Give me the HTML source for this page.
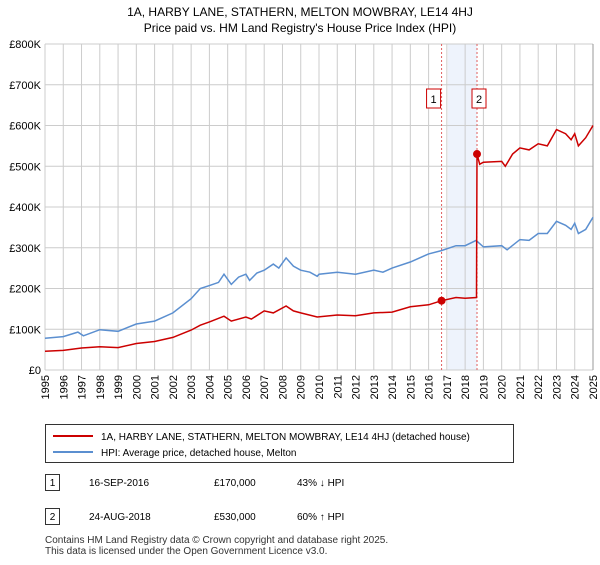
<!DOCTYPE html>
<html><head><meta charset="utf-8"><style>
body{margin:0;background:#fff;font-family:"Liberation Sans",sans-serif;}
svg text{font-family:"Liberation Sans",sans-serif;}
</style></head><body>
<svg width="600" height="560" viewBox="0 0 600 560">
<text x="300" y="16" text-anchor="middle" font-size="12">1A, HARBY LANE, STATHERN, MELTON MOWBRAY, LE14 4HJ</text>
<text x="300" y="32" text-anchor="middle" font-size="12">Price paid vs. HM Land Registry's House Price Index (HPI)</text>
<g id="grid"></g>
<g id="marks"></g>
<g id="legend">
<rect x="45.5" y="424.5" width="468" height="38" fill="#fff" stroke="#333"/>
<line x1="53" y1="436" x2="93" y2="436" stroke="#cc0000" stroke-width="2"/>
<text x="101" y="440" font-size="10">1A, HARBY LANE, STATHERN, MELTON MOWBRAY, LE14 4HJ (detached house)</text>
<line x1="53" y1="452" x2="93" y2="452" stroke="#5b8fd0" stroke-width="2"/>
<text x="101" y="456" font-size="10">HPI: Average price, detached house, Melton</text>
</g>
<g font-size="10">
<rect x="45.5" y="474.5" width="14" height="16" fill="#fff" stroke="#333"/><text x="52.5" y="486" text-anchor="middle">1</text>
<text x="89" y="486">16-SEP-2016</text><text x="214" y="486">£170,000</text><text x="297" y="486">43% ↓ HPI</text>
<rect x="45.5" y="508.5" width="14" height="16" fill="#fff" stroke="#333"/><text x="52.5" y="520" text-anchor="middle">2</text>
<text x="89" y="520">24-AUG-2018</text><text x="214" y="520">£530,000</text><text x="297" y="520">60% ↑ HPI</text>
</g>
<text x="45" y="543" font-size="10" fill="#333">Contains HM Land Registry data © Crown copyright and database right 2025.</text>
<text x="45" y="554" font-size="10" fill="#333">This data is licensed under the Open Government Licence v3.0.</text>
</svg>
<script>
const yTicks=[0,100,200,300,400,500,600,700,800];
const yTickLabels=["£0","£100K","£200K","£300K","£400K","£500K","£600K","£700K","£800K"];
const xYears=[1995,1996,1997,1998,1999,2000,2001,2002,2003,2004,2005,2006,2007,2008,2009,2010,2011,2012,2013,2014,2015,2016,2017,2018,2019,2020,2021,2022,2023,2024,2025];
const hpiT=[1995,1996,1996.8,1997.1,1998,1999,2000,2001,2002,2003,2003.5,2004,2004.5,2004.8,2005.2,2005.6,2006,2006.2,2006.6,2007,2007.5,2007.8,2008.2,2008.6,2009,2009.5,2009.9,2010,2011,2012,2013,2013.5,2014,2015,2016,2016.7,2017.5,2018,2018.6,2019,2020,2020.3,2021,2021.5,2022,2022.5,2023,2023.5,2023.8,2024,2024.2,2024.6,2025];
const hpiV=[78,82,93,84,99,95,113,120,140,175,200,207,215,235,210,228,235,220,238,245,260,250,275,255,245,240,230,235,240,235,245,240,250,265,285,293,305,305,318,302,305,295,320,318,335,335,365,355,345,360,335,345,375];
const redT=[1995,1996,1997,1998,1999,2000,2001,2002,2003,2003.5,2004,2004.8,2005.2,2006,2006.3,2007,2007.5,2008.2,2008.6,2009,2009.9,2011,2012,2013,2014,2015,2016,2016.71,2017.5,2018,2018.62,2018.65,2018.8,2019,2020,2020.2,2020.6,2021,2021.5,2022,2022.5,2023,2023.5,2023.8,2024,2024.2,2024.6,2025];
const redV=[46,48,54,57,55,65,70,80,98,110,118,132,120,130,125,145,140,157,145,140,130,135,133,140,142,155,160,170,178,176,178,530,505,510,512,500,530,545,540,555,550,590,580,565,580,550,570,600];
const sales=[{t:2016.71,v:170,l:"1"},{t:2018.65,v:530,l:"2"}];
const X0=45,X1=593,Y0=370,Y1=44;
const x=t=>X0+(t-1995)/30*(X1-X0);
const y=v=>Y0-v/800*(Y0-Y1);
const NS="http://www.w3.org/2000/svg";
function mk(tag,attrs,parent){const e=document.createElementNS(NS,tag);for(const k in attrs)e.setAttribute(k,attrs[k]);parent.appendChild(e);return e;}
const grid=document.getElementById('grid'),marks=document.getElementById('marks');
let band=mk('rect',{x:x(2017.06),y:Y1,width:x(2018.65)-x(2017.06),height:Y0-Y1,fill:'#eef3fc'},grid);


yTicks.forEach((v,i)=>{
 let l=mk('line',{x1:X0,x2:X1,y1:y(v),y2:y(v),stroke:'#ccc'},grid);
 
 
 let t=mk('text',{x:X0-4,y:y(v)+4,'text-anchor':'end','font-size':'11'},grid);t.textContent=yTickLabels[i];
 
 
});
xYears.forEach(yr=>{
 let l=mk('line',{x1:x(yr),x2:x(yr),y1:Y1,y2:Y0,stroke:'#ccc'},grid);
 
 
 let t=mk('text',{x:0,y:0,'font-size':'11','text-anchor':'end',transform:`translate(${x(yr)+4},${Y0+5}) rotate(-90)`},grid);t.textContent=yr;
 
 
});
mk('line',{x1:X1,x2:X1,y1:Y1,y2:Y0,stroke:'#999'},grid);
sales.forEach(s=>{
 let l=mk('line',{x1:x(s.t),x2:x(s.t),y1:Y1,y2:Y0,stroke:'#e06060','stroke-dasharray':'2,2'},grid);
 
 
});
const pts=(T,V)=>T.map((t,i)=>x(t).toFixed(1)+','+y(V[i]).toFixed(1)).join(' ');
let hp=mk('polyline',{points:pts(hpiT,hpiV),fill:'none',stroke:'#5b8fd0','stroke-width':1.5},marks);


let rp=mk('polyline',{points:pts(redT,redV),fill:'none',stroke:'#cc0000','stroke-width':1.5},marks);


sales.forEach(s=>{
 let c=mk('circle',{cx:x(s.t),cy:y(s.v),r:4,fill:'#cc0000'},marks);
 
 
 let g=mk('g',{},marks);
 
 
 const lx=x(s.t)-(s.l==="1"?8:-2);
 mk('rect',{x:lx-7,y:89,width:14,height:19,fill:'#fff',stroke:'#cc0000'},g);
 let t=mk('text',{x:lx,y:103,'text-anchor':'middle','font-size':'11'},g);t.textContent=s.l;
});
</script>
</body></html>
